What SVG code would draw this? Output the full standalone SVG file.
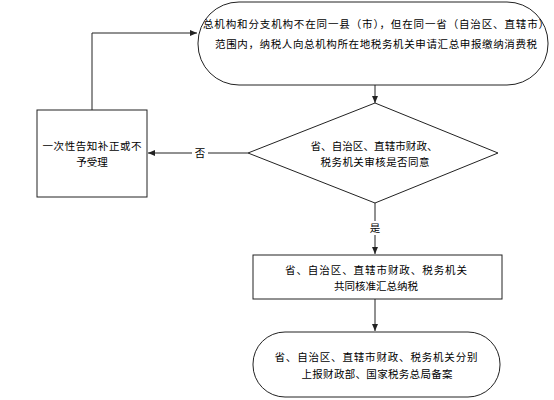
<svg xmlns="http://www.w3.org/2000/svg" width="554" height="400" viewBox="0 0 554 400">
<style>
.s{fill:#fff;stroke:#222;stroke-width:1}
.c{fill:none;stroke:#222;stroke-width:1}
text{font-family:"Noto Sans CJK SC","Liberation Sans",sans-serif;font-size:10.5px;fill:#000;text-anchor:middle}
</style>
<defs>
<marker id="a" markerWidth="8" markerHeight="8" refX="7" refY="4" orient="auto" markerUnits="userSpaceOnUse">
<path d="M0,1 L7,4 L0,7 z" fill="#222"/>
</marker>
</defs>
<rect width="554" height="400" fill="#fff"/>
<g id="connectors">
<path class="c" d="M375,85 V103" marker-end="url(#a)"/>
<path class="c" d="M248,153 H148" marker-end="url(#a)"/>
<path class="c" d="M92,110 V33 H197" marker-end="url(#a)"/>
<path class="c" d="M375,203 V254" marker-end="url(#a)"/>
<path class="c" d="M375,299 V331" marker-end="url(#a)"/>
<rect x="192" y="146" width="16" height="14" fill="#fff"/>
<text x="200" y="157">否</text>
<rect x="368" y="221" width="14" height="14" fill="#fff"/>
<text x="375" y="232">是</text>
</g>
<g id="n1">
<rect class="s" x="198" y="2" width="350" height="83" rx="41" ry="41"/>
<text x="376" y="28" textLength="346">总机构和分支机构不在同一县（市），但在同一省（自治区、直辖市）</text>
<text x="376" y="48" textLength="322">范围内，纳税人向总机构所在地税务机关申请汇总申报缴纳消费税</text>
</g>
<g id="n2">
<path class="s" d="M375,103 L498,153 L375,203 L248,153 Z"/>
<text x="374" y="150" textLength="127">省、自治区、直辖市财政、</text>
<text x="375" y="166" textLength="109">税务机关审核是否同意</text>
</g>
<g id="n3">
<rect class="s" x="37" y="110" width="110" height="87"/>
<text x="92" y="150" textLength="99">一次性告知补正或不</text>
<text x="92" y="166">予受理</text>
</g>
<g id="n4">
<rect class="s" x="253" y="255" width="249" height="44"/>
<text x="376" y="274" textLength="182">省、自治区、直辖市财政、税务机关</text>
<text x="376" y="290">共同核准汇总纳税</text>
</g>
<g id="n5">
<rect class="s" x="253" y="332" width="247" height="65" rx="32" ry="32"/>
<text x="376" y="361" textLength="203">省、自治区、直辖市财政、税务机关分别</text>
<text x="377" y="378" textLength="151">上报财政部、国家税务总局备案</text>
</g>
</svg>
